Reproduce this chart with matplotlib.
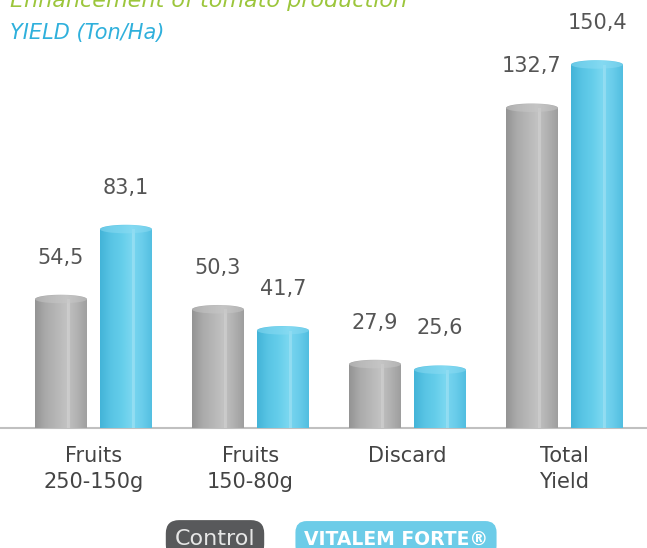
# -*- coding: utf-8
import numpy as np
import matplotlib.pyplot as plt
from matplotlib.patches import Rectangle, Ellipse
from matplotlib.path import Path
from matplotlib.patches import PathPatch
from matplotlib.colors import LinearSegmentedColormap

# データ
categories = ["Fruits\n250-150g", "Fruits\n150-80g", "Discard", "Total\nYield"]
control = [54.5, 50.3, 27.9, 132.7]
vitalem = [83.1, 41.7, 25.6, 150.4]
series_names = ["Control", "VITALEM FORTE®"]

W, H = 647, 548
BASE = 428  # 基線の位置 (px, 上から)

gray_cmap = LinearSegmentedColormap.from_list(
    "g", ["#949494", "#aaaaaa", "#b6b6b6", "#c2c2c2", "#b2b2b2", "#9e9e9e"])
blue_cmap = LinearSegmentedColormap.from_list(
    "b", ["#43b4d8", "#58c4e4", "#64cdea", "#7ad7f0", "#6acdeb", "#52bee0"])


def cylinder(ax, xc, w, v, cmap, cap_col, cap_h):
    x0, x1 = xc - w / 2, xc + w / 2
    ytop = v - cap_h / 2
    # 円柱の輪郭
    t = np.linspace(0, np.pi, 40)
    ex = xc + (w / 2) * np.cos(t)
    ey = ytop + (cap_h / 2) * np.sin(t)
    verts = [(x1, 0)] + list(zip(ex, ey)) + [(x0, 0), (x1, 0)]
    codes = [Path.MOVETO] + [Path.LINETO] * (len(verts) - 2) + [Path.CLOSEPOLY]
    patch = PathPatch(Path(verts, codes), facecolor="none", edgecolor="none")
    ax.add_patch(patch)
    grad = np.linspace(0, 1, 100).reshape(1, -1)
    im = ax.imshow(grad, extent=[x0, x1, 0, v], aspect="auto", cmap=cmap,
                   origin="lower", zorder=2)
    im.set_clip_path(patch)
    # ハイライト
    ax.add_patch(Rectangle((xc + w * 0.12, 0), w * 0.05, ytop, color="white",
                           alpha=0.2, lw=0, zorder=3))
    ax.add_patch(Ellipse((xc, ytop), w, cap_h * 0.9, color=cap_col, lw=0,
                         alpha=0.5, zorder=3))


def main():
    fig = plt.figure(figsize=(W / 100, H / 100), dpi=100)
    ax = fig.add_axes([0, (H - BASE) / H, 1, BASE / H])

    spacing = 157.0
    ymax = 175
    px_per = BASE / ymax
    ax.set_xlim(-93.5 / spacing, (W - 93.5) / spacing)
    ax.set_ylim(0, ymax)
    ax.axis("off")

    x = np.arange(len(categories))
    w = 52 / spacing
    off = 32.5 / spacing
    cap_h = 9 / px_per

    for i in range(len(categories)):
        cylinder(ax, x[i] - off, w, control[i], gray_cmap, "#c8c8c8", cap_h)
        cylinder(ax, x[i] + off, w, vitalem[i], blue_cmap, "#8edcf3", cap_h)
        ax.text(x[i] - off, control[i] + 37 / px_per,
                f"{control[i]:.1f}".replace(".", ","), ha="center",
                va="center", fontsize=15, color="#555555")
        ax.text(x[i] + off, vitalem[i] + 37 / px_per,
                f"{vitalem[i]:.1f}".replace(".", ","), ha="center",
                va="center", fontsize=15, color="#555555")

    # 基線
    ax.axhline(0, color="#c0c0c0", lw=1.5, zorder=1, clip_on=False)

    # カテゴリラベル
    for i, c in enumerate(categories):
        ax.annotate(c, (x[i], 0), xytext=(0, -13), textcoords="offset points",
                    ha="center", va="top", fontsize=15, color="#444444",
                    linespacing=1.4, annotation_clip=False)

    # タイトル
    fig.text(10 / W, (H - 7) / H, "Enhancement of tomato production",
             fontsize=16, style="italic", color="#9cc63c", va="baseline")
    fig.text(10 / W, (H - 39) / H, "YIELD (Ton/Ha)",
             fontsize=15, style="italic", color="#2fb0dc", va="baseline")

    # 凡例
    fig.text(215 / W, (H - 539) / H, series_names[0], ha="center",
             va="center", fontsize=16, color="#e6e6e6",
             bbox=dict(boxstyle="round,pad=0.4,rounding_size=0.6",
                       fc="#58595b", ec="none"))
    fig.text(396 / W, (H - 539) / H, series_names[1], ha="center",
             va="center", fontsize=13.5, color="white", fontweight="bold",
             bbox=dict(boxstyle="round,pad=0.45,rounding_size=0.6",
                       fc="#6ccce8", ec="none"))

    fig.savefig("out.png", dpi=100)


if __name__ == "__main__":
    main()
